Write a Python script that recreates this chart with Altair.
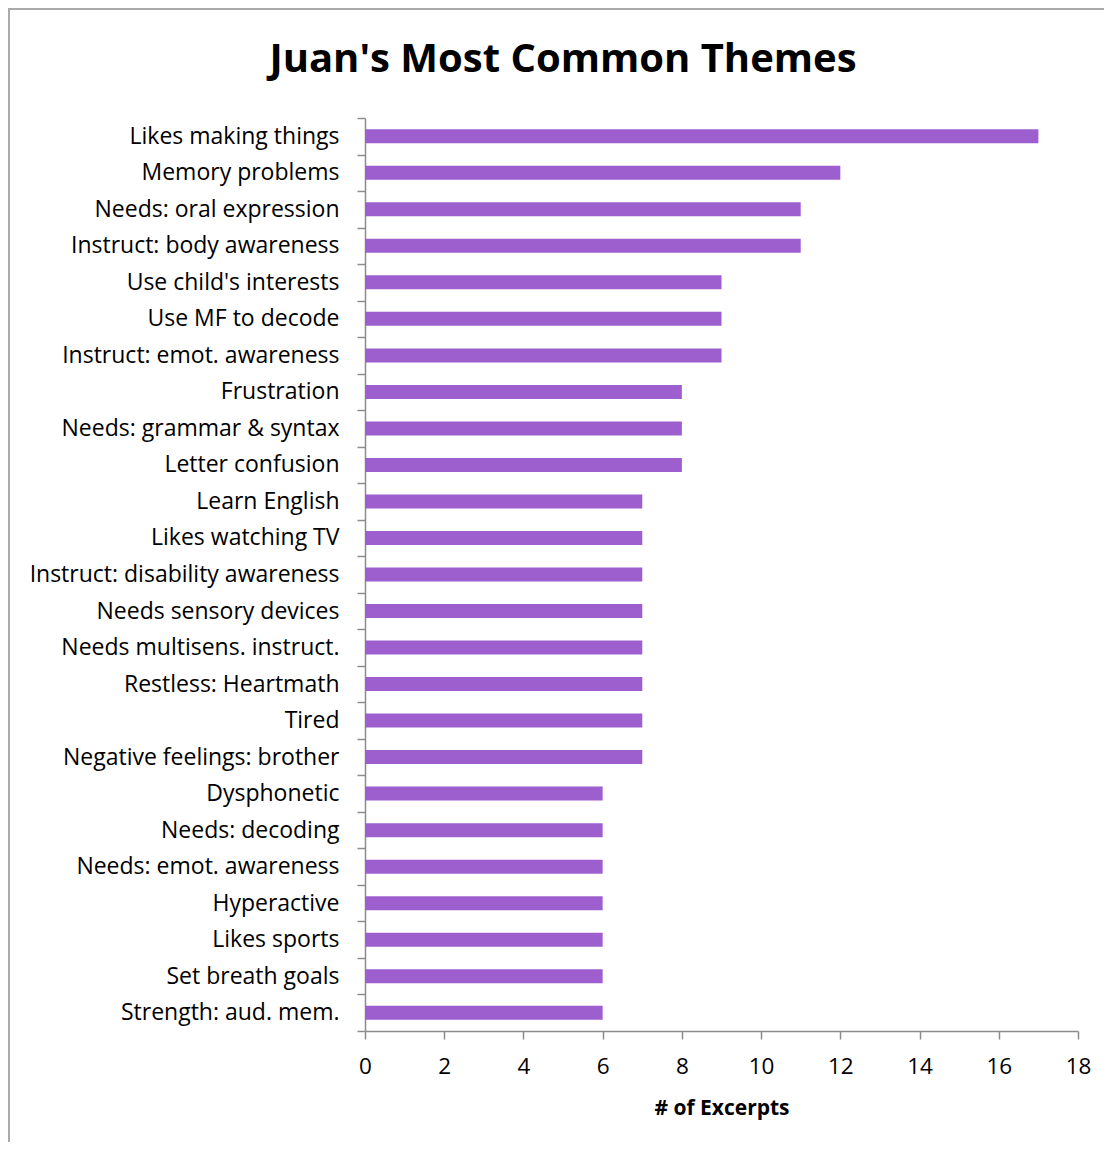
import altair as alt
import pandas as pd

chart_title = ["Juan's Most Common Themes"]
themes = [
    "Likes making things", "Memory problems", "Needs: oral expression",
    "Instruct: body awareness", "Use child's interests", "Use MF to decode",
    "Instruct: emot. awareness", "Frustration", "Needs: grammar & syntax",
    "Letter confusion", "Learn English", "Likes watching TV",
    "Instruct: disability awareness", "Needs sensory devices",
    "Needs multisens. instruct.", "Restless: Heartmath", "Tired",
    "Negative feelings: brother", "Dysphonetic", "Needs: decoding",
    "Needs: emot. awareness", "Hyperactive", "Likes sports",
    "Set breath goals", "Strength: aud. mem.",
]
excerpts = [17, 12, 11, 11, 9, 9, 9, 8, 8, 8, 7, 7, 7, 7, 7, 7, 7, 7,
            6, 6, 6, 6, 6, 6, 6]
x_ticks = [0, 2, 4, 6, 8, 10, 12, 14, 16, 18]

df = pd.DataFrame({"theme": themes, "n": excerpts})
title_df = pd.DataFrame({"t": chart_title})

FONT = "Open Sans"
GREY = "#8c8c8c"

bars = alt.Chart(df).mark_bar(size=14, color="#9E5FCE").encode(
    x=alt.X("n:Q", title="# of Excerpts",
            scale=alt.Scale(domain=[0, 18], nice=False, zero=True),
            axis=alt.Axis(values=x_ticks, grid=False, domainColor=GREY,
                          tickColor=GREY, tickSize=8, tickWidth=1.5,
                          domainWidth=1.5, labelFontSize=22.5, labelFont=FONT,
                          labelColor="#000", labelPadding=16,
                          titleFontSize=21, titleFont=FONT, titleFontWeight="bold",
                          titleColor="#000", titlePadding=20, labelFlush=False)),
    y=alt.Y("theme:N", sort=themes, title=None,
            scale=alt.Scale(paddingInner=0, paddingOuter=0),
            axis=alt.Axis(tickBand="extent", grid=False, domainColor=GREY,
                          tickColor=GREY, tickSize=8, tickWidth=1.5,
                          domainWidth=1.5, labelFontSize=23, labelFont=FONT,
                          labelColor="#000", labelPadding=18, labelLimit=400)),
)

title_mark = alt.Chart(title_df).mark_text(
    font=FONT, fontSize=40, fontWeight="bold", color="#000",
    align="center", baseline="alphabetic",
).encode(text="t:N", x=alt.value(198), y=alt.value(-46))

left_border = alt.Chart(df).mark_rule(color="#aaaaaa", strokeWidth=2).encode(
    x=alt.value(-356), y=alt.value(-110), y2=alt.value(1024))
top_border = alt.Chart(df).mark_rule(color="#aaaaaa", strokeWidth=2).encode(
    x=alt.value(-357), x2=alt.value(739), y=alt.value(-109))

chart = alt.layer(bars, title_mark, left_border, top_border).properties(
    width=713, height=913,
    autosize=alt.AutoSizeParams(type="none"),
    padding={"left": 357, "top": 110, "right": 26, "bottom": 111},
).configure_view(stroke=None)

chart.save("out.html", embed_options={"renderer": "svg", "actions": False})
